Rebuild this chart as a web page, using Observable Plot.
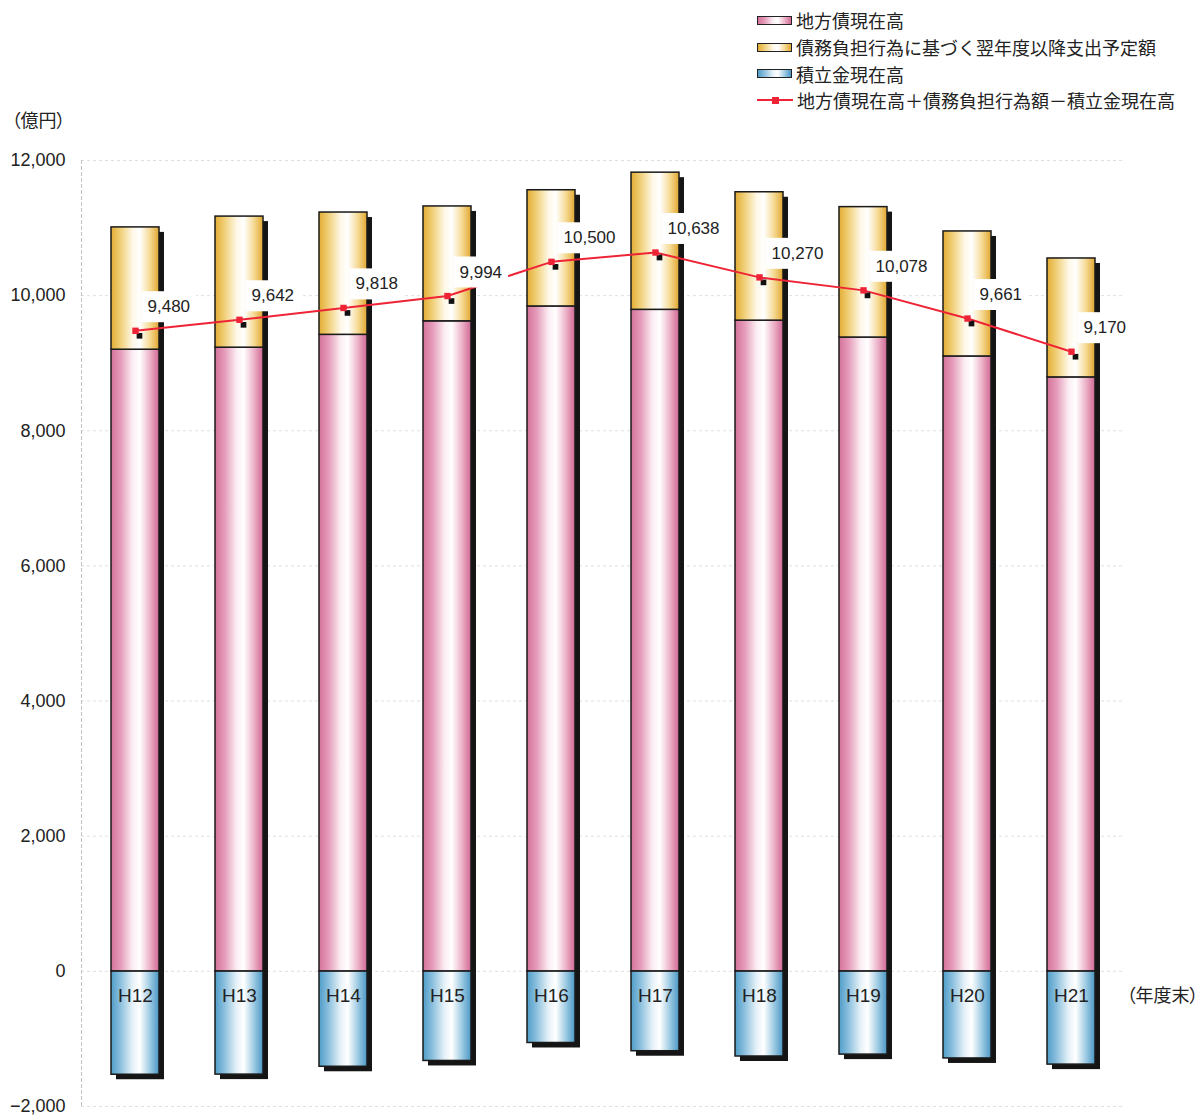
<!DOCTYPE html>
<html>
<head>
<meta charset="utf-8">
<script src="https://cdn.jsdelivr.net/npm/d3@7"></script>
<script src="https://cdn.jsdelivr.net/npm/@observablehq/plot@0.6"></script>
<style>
  body { margin: 0; background: #fff; }
  #wrap { position: relative; width: 1201px; height: 1116px; font-family: "Liberation Sans", "Noto Sans CJK JP", sans-serif; }
  #legend { position: absolute; left: 757px; top: 7px; font-family: "Noto Sans CJK JP", sans-serif; font-size: 18px; color: #222; }
  .row { display: flex; align-items: center; height: 26.7px; }
  .sw { width: 33px; height: 7px; border: 1.5px solid #222; margin-right: 4px; box-sizing: content-box; }
  .ln { width: 36px; height: 2px; background: #ee2436; margin-right: 4px; position: relative; }
  .ln::after { content: ""; position: absolute; left: 15px; top: -2.5px; width: 7px; height: 7px; background: #ee2436; }
  .jp text { font-feature-settings: "palt"; }
</style>
</head>
<body>
<div id="wrap">
  <div id="legend">
    <div class="row"><span class="sw" style="background: linear-gradient(to right, #d4739b, #e59bba 20%, #fbeef3 45%, #fff 60%, #eeb6cb 80%, #d06894)"></span>地方債現在高</div>
    <div class="row"><span class="sw" style="background: linear-gradient(to right, #e2ad33, #f1d07a 20%, #fff8e6 45%, #fff 60%, #f6dc9a 80%, #e0a830)"></span>債務負担行為に基づく翌年度以降支出予定額</div>
    <div class="row"><span class="sw" style="background: linear-gradient(to right, #4f9dc8, #8cc0de 20%, #e6f2f8 45%, #fff 60%, #a2cde4 80%, #4a96c4)"></span>積立金現在高</div>
    <div class="row"><span class="ln"></span>地方債現在高＋債務負担行為額－積立金現在高</div>
  </div>
</div>
<script>
// 年度末（平成）
const years = ["H12", "H13", "H14", "H15", "H16", "H17", "H18", "H19", "H20", "H21"];
// 地方債現在高（億円）
const debt = [9200, 9230, 9420, 9620, 9840, 9790, 9630, 9380, 9100, 8790];
// 債務負担行為に基づく翌年度以降支出予定額（億円）
const obligation = [1810, 1940, 1810, 1700, 1720, 2030, 1900, 1930, 1850, 1760];
// 積立金現在高（億円）
const reserve = [1530, 1528, 1412, 1326, 1060, 1182, 1260, 1232, 1289, 1380];
// 地方債現在高＋債務負担行為額－積立金現在高（億円）
const net = [9480, 9642, 9818, 9994, 10500, 10638, 10270, 10078, 9661, 9170];
// 縦軸の目盛
const yTicks = [-2000, 0, 2000, 4000, 6000, 8000, 10000, 12000];

const rows = years.map((year, i) => ({
  year,
  debt: debt[i],
  top: debt[i] + obligation[i],
  reserve: -reserve[i],
  net: net[i]
}));

// 円柱風のグラデーション定義
const gradients = {
  gPink:   ["#d4739b", "#e59bba", "#fbeef3", "#ffffff", "#eeb6cb", "#d06894"],
  gYellow: ["#e2ad33", "#f1d07a", "#fff8e6", "#ffffff", "#f6dc9a", "#e0a830"],
  gBlue:   ["#4f9dc8", "#8cc0de", "#e6f2f8", "#ffffff", "#a2cde4", "#4a96c4"]
};
const offsets = [0, 0.2, 0.45, 0.6, 0.8, 1];
function defsMark() {
  const defs = d3.create("svg:defs");
  for (const [id, colors] of Object.entries(gradients)) {
    const g = defs.append("linearGradient").attr("id", id).attr("x1", 0).attr("x2", 1).attr("y1", 0).attr("y2", 0);
    colors.forEach((c, k) => g.append("stop").attr("offset", offsets[k]).attr("stop-color", c));
  }
  return defs.node();
}

const red = "#ee2436";
const outline = {stroke: "#1a1a1a", strokeWidth: 1.5};
const comma = d3.format(",");
const jpFont = "'Noto Sans CJK JP', sans-serif";

const chart = Plot.plot({
  width: 1201,
  height: 1116,
  marginLeft: 81,
  marginRight: 77,
  marginTop: 160,
  marginBottom: 10,
  style: {fontFamily: "'Liberation Sans', 'Noto Sans CJK JP', sans-serif", fontSize: "17px", color: "#222", background: "transparent"},
  x: {domain: years, paddingInner: 0.54, paddingOuter: 0.27, axis: null},
  y: {domain: [-2000, 12000], axis: null},
  marks: [
    defsMark,
    Plot.gridY(yTicks, {stroke: "#c4c4c4", strokeOpacity: 0.55, strokeDasharray: "3,3"}),
    Plot.frame({anchor: "left", stroke: "#aaa", strokeDasharray: "3,3", strokeOpacity: 0.7}),
    Plot.axisY(yTicks, {tickFormat: comma, tickSize: 0, tickPadding: 16, fontSize: 18}),
    Plot.text(["（億円）"], {frameAnchor: "top-left", dx: -70, dy: -46, textAnchor: "start", fontSize: 18, fontFamily: jpFont, className: "jp"}),
    // 影
    Plot.barY(rows, {x: "year", y1: "reserve", y2: "top", fill: "#151515", dx: 5, dy: 5}),
    // 積立金・地方債・債務負担行為
    Plot.barY(rows, {x: "year", y1: "reserve", y2: 0, fill: "url(#gBlue)", ...outline}),
    Plot.barY(rows, {x: "year", y1: 0, y2: "debt", fill: "url(#gPink)", ...outline}),
    Plot.barY(rows, {x: "year", y1: "debt", y2: "top", fill: "url(#gYellow)", ...outline}),
    Plot.text(rows, {x: "year", y: 0, dy: 25, text: "year", fontSize: 19, letterSpacing: 1, fill: "#222"}),
    Plot.text(["（年度末）"], {frameAnchor: "right", y: 0, dy: 25, dx: 2, textAnchor: "start", fontSize: 18, fontFamily: jpFont, className: "jp"}),
    // 折れ線
    Plot.line(rows, {x: "year", y: "net", stroke: red, strokeWidth: 2}),
    Plot.text(rows, {x: "year", y: "net", text: d => comma(d.net), dx: 12, dy: -24, textAnchor: "start", fontSize: 17, fill: "#222", className: "vlab"}),
    Plot.dot(rows, {x: "year", y: "net", symbol: "square", r: 3.2, fill: "#111", dx: 4, dy: 5}),
    Plot.dot(rows, {x: "year", y: "net", symbol: "square", r: 3.6, fill: red})
  ]
});

document.getElementById("wrap").prepend(chart);
chart.style.position = "absolute";
chart.style.left = "0";
chart.style.top = "0";
document.getElementById("legend").style.zIndex = 2;

// 数値ラベルの白い背景
d3.select(chart).selectAll("g.vlab text").each(function() {
  const b = this.getBBox();
  const rect = document.createElementNS("http://www.w3.org/2000/svg", "rect");
  rect.setAttribute("x", b.x - 6);
  rect.setAttribute("y", b.y - 6);
  rect.setAttribute("width", b.width + 12);
  rect.setAttribute("height", b.height + 12);
  rect.setAttribute("fill", "white");
  const t = this.getAttribute("transform");
  if (t) rect.setAttribute("transform", t);
  this.parentNode.insertBefore(rect, this);
});
</script>
</body>
</html>
